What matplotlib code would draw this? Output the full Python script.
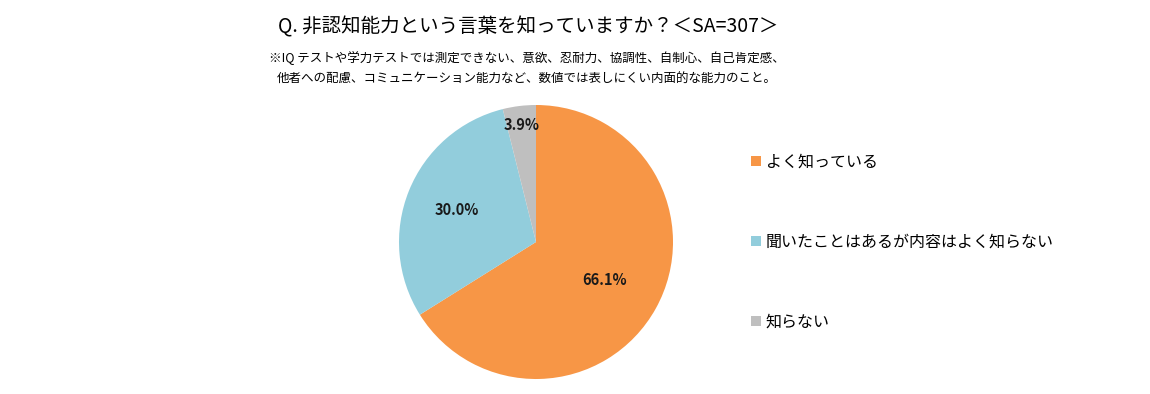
import matplotlib.pyplot as plt
import numpy as np

plt.rcParams['font.family'] = ['Noto Sans CJK JP', 'DejaVu Sans']

# データ
labels = ['よく知っている', '聞いたことはあるが内容はよく知らない', '知らない']
values = [66.1, 30.0, 3.9]
colors = ['#F79646', '#92CDDC', '#BFBFBF']
pct_dist = [0.57, 0.62, 0.86]  # ラベル位置（中心からの距離）

title = 'Q. 非認知能力という言葉を知っていますか？＜SA=307＞'
note = ('※IQ テストや学力テストでは測定できない、意欲、忍耐力、協調性、自制心、自己肯定感、\n'
        '他者への配慮、コミュニケーション能力など、数値では表しにくい内面的な能力のこと。')

W, H = 1150, 394
fig = plt.figure(figsize=(W / 100, H / 100), dpi=100)

cx, cy, r = 536, 242, 137
ax = fig.add_axes([(cx - r) / W, (H - cy - r) / H, 2 * r / W, 2 * r / H])
wedges, _ = ax.pie(values, colors=colors, startangle=90, counterclock=False,
                   wedgeprops=dict(linewidth=0))
ax.set_xlim(-1, 1)
ax.set_ylim(-1, 1)
ax.set_aspect('equal')

# パーセント表示
for w, v, d in zip(wedges, values, pct_dist):
    ang = np.deg2rad((w.theta1 + w.theta2) / 2)
    ax.text(d * np.cos(ang), d * np.sin(ang), f'{v:.1f}%',
            ha='center', va='center', fontsize=10.5, fontweight='bold', color='#1a1a1a')

fig.text(528 / W, 1 - 27 / H, title, ha='center', va='center', fontsize=14)
fig.text(527 / W, 1 - 68.5 / H, note, ha='center', va='center', fontsize=9,
         linespacing=1.85)

# 凡例
leg = fig.legend(wedges, labels, loc='upper left', bbox_to_anchor=(737 / W, 1 - 139 / H),
                 frameon=False, fontsize=11.5, handlelength=0.6, handleheight=0.6,
                 handletextpad=0.3, labelspacing=3.95)

fig.savefig('out.png', dpi=100)
